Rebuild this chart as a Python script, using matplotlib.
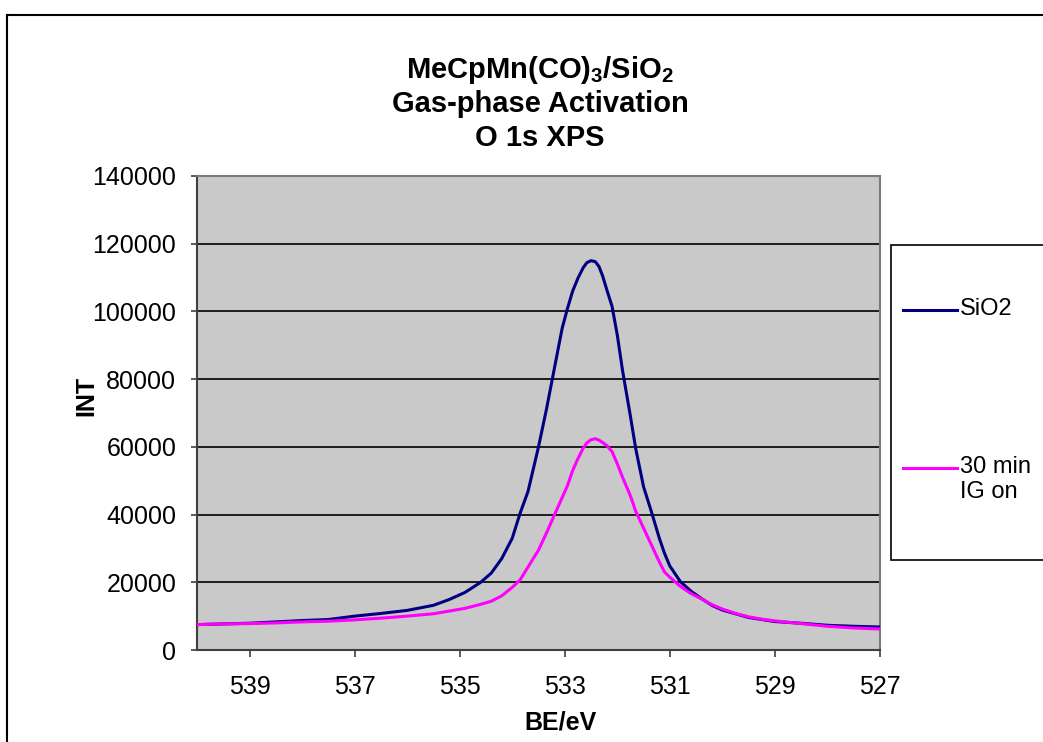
"""O 1s XPS spectra of MeCpMn(CO)3/SiO2 before and after gas-phase activation."""

import matplotlib
matplotlib.use("Agg")
import matplotlib.pyplot as plt
from matplotlib.lines import Line2D
from matplotlib.patches import Rectangle

plt.rcParams["font.family"] = ["Liberation Sans", "DejaVu Sans"]
plt.rcParams["mathtext.fontset"] = "custom"
plt.rcParams["mathtext.rm"] = "Liberation Sans"
plt.rcParams["mathtext.bf"] = "Liberation Sans:bold"

# ── Data ──────────────────────────────────────────────────────────────────────
be = [540.0, 539.5, 539.0, 538.5, 538.0, 537.5, 537.0, 536.5, 536.0, 535.5,
      535.2, 534.9, 534.6, 534.4, 534.2, 534.0, 533.85, 533.7, 533.5, 533.35,
      533.2, 533.05, 532.95, 532.85, 532.75, 532.65, 532.58, 532.5, 532.42, 532.35,
      532.28, 532.2, 532.1, 532.0, 531.9, 531.75, 531.65, 531.5, 531.35, 531.2,
      531.1, 531.0, 530.8, 530.6, 530.4, 530.2, 530.0, 529.75, 529.5, 529.25,
      529.0, 528.5, 528.0, 527.5, 527.0]

int_sio2 = [7500, 7700, 7900, 8300, 8700, 9000, 10000, 10800, 11700, 13200,
            14900, 17000, 20000, 22700, 27000, 33000, 40400, 46800, 60000, 71000,
            83000, 95000, 100800, 106000, 109800, 112900, 114400, 115000, 114700, 113300,
            110500, 106400, 101500, 93000, 82500, 69000, 59500, 48200, 40800, 33000,
            28500, 24800, 20200, 17400, 15200, 13200, 11800, 10700, 9600, 9000,
            8400, 7900, 7300, 7000, 6800]

int_ig30 = [7500, 7700, 7800, 8000, 8300, 8500, 8900, 9400, 10000, 10700,
            11500, 12300, 13500, 14400, 16000, 18500, 20700, 24500, 29500, 34500,
            39800, 45000, 48500, 53000, 56500, 59600, 61200, 62100, 62400, 62000,
            61300, 60400, 58600, 55000, 51000, 45500, 41000, 36000, 31000, 26000,
            23000, 21500, 18800, 16700, 15100, 13400, 12100, 10800, 9800, 9100,
            8600, 7800, 7000, 6500, 6200]

x_ticks = [539, 537, 535, 533, 531, 529, 527]
y_ticks = [0, 20000, 40000, 60000, 80000, 100000, 120000, 140000]

series_labels = ["SiO2", "30 min\nIG on"]

# ── Figure ────────────────────────────────────────────────────────────────────
W, H = 1043, 742
fig = plt.figure(figsize=(W / 100, H / 100), dpi=100, facecolor="white")
ax = fig.add_axes([197 / W, 1 - 650 / H, 683 / W, 474 / H])

c_sio2 = "#000080"
c_ig = "#FF00FF"

ax.set_facecolor("#C9C9C9")
ax.plot(be, int_sio2, color=c_sio2, lw=2.2, zorder=3)
ax.plot(be, int_ig30, color=c_ig, lw=2.2, zorder=3)

ax.set_xlim(540, 527)
ax.set_ylim(0, 140000)
ax.set_xticks(x_ticks)
ax.set_xticklabels([str(t) for t in x_ticks])
ax.set_yticks(y_ticks)
ax.set_yticklabels([str(t) for t in y_ticks])
ax.yaxis.grid(True, color="black", lw=1.2)
ax.set_axisbelow(True)

ax.tick_params(axis="y", direction="out", length=4, width=1.2, pad=11,
               labelsize=18, color="#404040")
ax.tick_params(axis="x", direction="out", length=5, width=1.2, pad=13,
               labelsize=18, color="#404040")

for side in ("top", "right"):
    ax.spines[side].set_color("#7a7a7a")
    ax.spines[side].set_linewidth(1.5)
for side in ("left", "bottom"):
    ax.spines[side].set_color("#404040")
    ax.spines[side].set_linewidth(1.5)

ax.set_xlabel("BE/eV", fontsize=18, fontweight="bold")
ax.xaxis.set_label_coords((560 - 197) / 683, (650 - 711) / 474)
ax.set_ylabel("INT", fontsize=18, fontweight="bold")
ax.yaxis.set_label_coords((98 - 197) / 683, (650 - 396) / 474)

# ── Title ─────────────────────────────────────────────────────────────────────
title_lines = [r"MeCpMn(CO)$_\mathbf{3}$/SiO$_\mathbf{2}$",
               "Gas-phase Activation",
               "O 1s XPS"]
for line, y in zip(title_lines, [70, 104, 138]):
    fig.text(540 / W, 1 - y / H, line, ha="center", va="center",
             fontsize=21, fontweight="bold")

# ── Legend box ────────────────────────────────────────────────────────────────
fig.add_artist(Rectangle((891 / W, 1 - 560 / H), 160 / W, 315 / H,
                         transform=fig.transFigure, facecolor="white",
                         edgecolor="black", lw=1.2))
for label, color, y in zip(series_labels, [c_sio2, c_ig], [310, 468]):
    fig.add_artist(Line2D([903 / W, 957 / W], [1 - y / H] * 2,
                          transform=fig.transFigure, color=color, lw=2.2))
    fig.text(960 / W, 1 - (y - 12) / H, label, ha="left", va="top",
             fontsize=17, linespacing=1.15)

# ── Outer chart frame (left and top edges) ────────────────────────────────────
fig.add_artist(Line2D([7 / W, 7 / W], [0, 1 - 15 / H],
                      transform=fig.transFigure, color="black", lw=1.5))
fig.add_artist(Line2D([7 / W, 1], [1 - 15 / H] * 2,
                      transform=fig.transFigure, color="black", lw=1.5))

fig.savefig("out.png", dpi=100)
